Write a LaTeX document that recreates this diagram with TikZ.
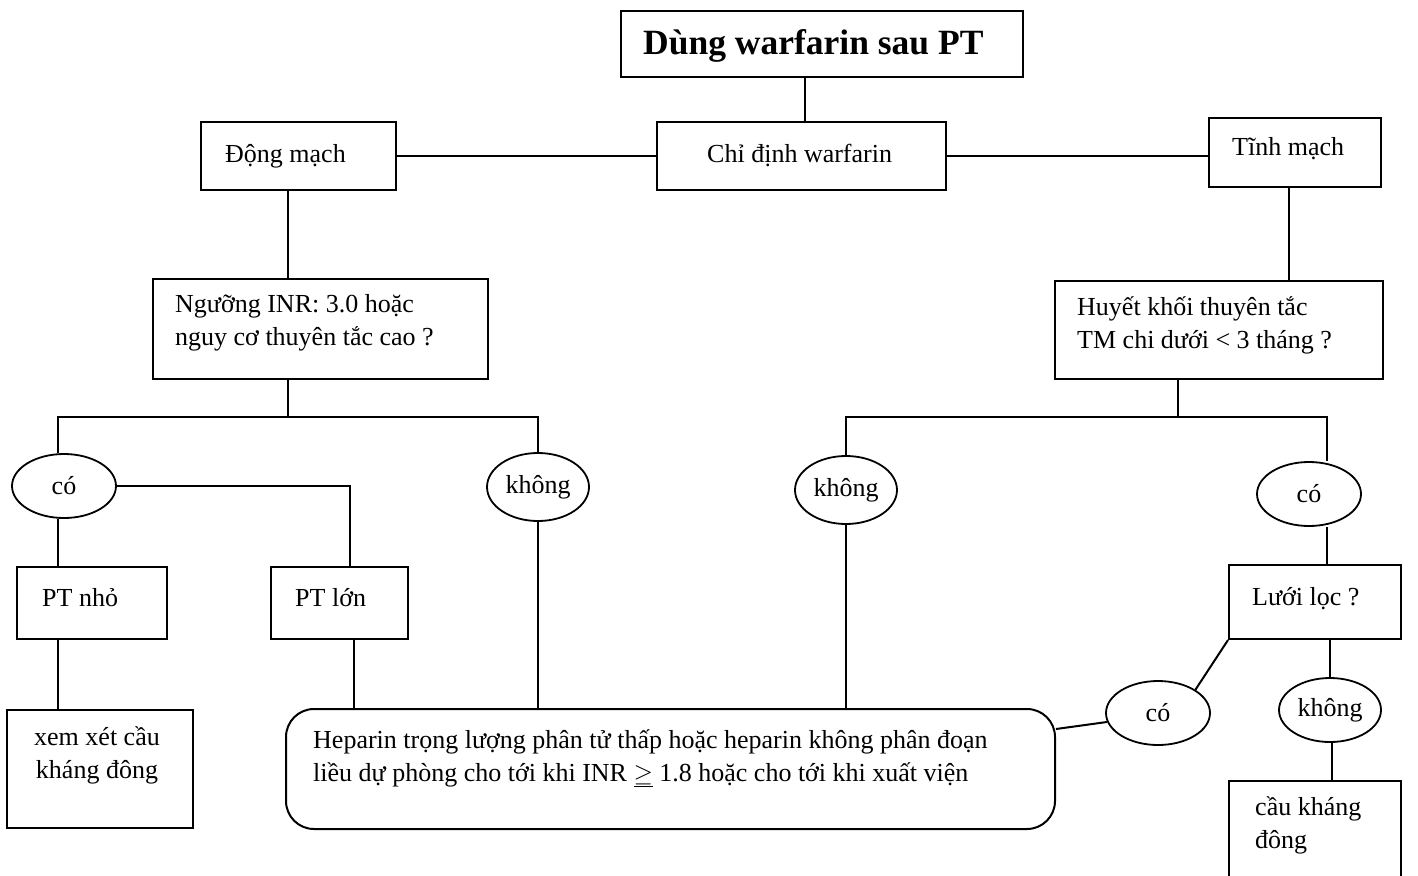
\documentclass[tikz,border=0pt]{standalone}
\usepackage{fontspec}
\setmainfont{Liberation Serif}
\usetikzlibrary{shapes.geometric}
\tikzset{
  box/.style={draw, line width=2pt, inner sep=0pt},
  rbox/.style={box, rounded corners=28pt},
  oval/.style={draw, ellipse, line width=1.8pt, inner sep=0pt,
    minimum width=104pt, minimum height=64pt, font=\fontsize{26}{30}\selectfont},
  lbl/.style={inner sep=0pt, anchor=base west, align=left,
    font=\fontsize{26}{33}\selectfont},
  link/.style={line width=2pt}
}
\begin{document}
\begin{tikzpicture}[x=1pt,y=-1pt]
\useasboundingbox (0,0) rectangle (1418,875);

% boxes (centre, size)
\node[box, minimum width=402pt, minimum height=66pt] (title) at (822,44) {};
\node[box, minimum width=289pt, minimum height=68pt] (chi) at (801.5,156) {};
\node[box, minimum width=195pt, minimum height=68pt] (dong) at (298.5,156) {};
\node[box, minimum width=172pt, minimum height=69pt] (tinh) at (1295,152.5) {};
\node[box, minimum width=335pt, minimum height=100pt] (nguong) at (320.5,329) {};
\node[box, minimum width=328pt, minimum height=98pt] (huyet) at (1219,330) {};
\node[box, minimum width=150pt, minimum height=72pt] (ptnho) at (92,603) {};
\node[box, minimum width=137pt, minimum height=72pt] (ptlon) at (339.5,603) {};
\node[box, minimum width=186pt, minimum height=118pt] (xem) at (100,769) {};
\node[rbox, minimum width=769pt, minimum height=120pt] (hep) at (670.5,769) {};
\node[box, minimum width=172pt, minimum height=74pt] (luoi) at (1315,602) {};
\node[box, minimum width=172pt, minimum height=110pt] (cau) at (1315,836) {};

% ovals
\node[oval] (co1) at (64,486) {có};
\node[oval, minimum width=102pt, minimum height=68pt] (kh1) at (538,487) {không};
\node[oval, minimum width=102pt, minimum height=68pt] (kh2) at (846,490) {không};
\node[oval] (co2) at (1309,494) {có};
\node[oval] (co3) at (1158,713) {có};
\node[oval, minimum width=102pt] (kh3) at (1330,710) {không};

% texts (base anchor = baseline of the last line)
\node[lbl, font=\fontsize{35.5}{40}\selectfont\bfseries] (title-t) at (643,55) {Dùng warfarin sau PT};
\node[lbl] (chi-t) at (707,162) {Chỉ định warfarin};
\node[lbl] (dong-t) at (225,162) {Động mạch};
\node[lbl] (tinh-t) at (1232,155) {Tĩnh mạch};
\node[lbl] (nguong-t) at (175,345) {Ngưỡng INR: 3.0 hoặc\\nguy cơ thuyên tắc cao ?};
\node[lbl] (huyet-t) at (1077,348) {Huyết khối thuyên tắc\\TM chi dưới < 3 tháng ?};
\node[lbl] (ptnho-t) at (42,606) {PT nhỏ};
\node[lbl] (ptlon-t) at (295,606) {PT lớn};
\node[lbl, align=center, anchor=base] (xem-t) at (97,778) {xem xét cầu\\kháng đông};
\node[lbl] (hep-t) at (313,781) {Heparin trọng lượng phân tử thấp hoặc heparin không phân đoạn\\liều dự phòng cho tới khi INR $\underline{\geq}$ 1.8 hoặc cho tới khi xuất viện};
\node[lbl] (luoi-t) at (1252,605) {Lưới lọc ?};
\node[lbl] (cau-t) at (1255,848) {cầu kháng\\đông};

% junction points
\coordinate (jL) at (288,417);
\coordinate (jR) at (1178,417);
\coordinate (xL) at (58,0);
\coordinate (xP) at (350,0);
\coordinate (xR) at (1327,0);

% top level
\draw[link] ([xshift=-17]title.south) -- ([xshift=-17]title.south |- chi.north);
\draw[link] (dong.east) -- (chi.west);
\draw[link] (chi.east) -- (chi.east -| tinh.west);

% arterial branch
\draw[link] (dong.south -| jL) -- (nguong.north -| jL);
\draw[link] (nguong.south -| jL) -- (jL);
\draw[link] (co1.north -| xL) |- (jL) -| (kh1.north);
\draw[link] (co1.east) -| (ptlon.north -| xP);
\draw[link] (co1.south -| xL) -- (ptnho.north -| xL);
\draw[link] (ptnho.south -| xL) -- (xem.north -| xL);
\draw[link] ([xshift=14]ptlon.south) -- ([xshift=14]ptlon.south |- hep.north);
\draw[link] (kh1.south) -- (kh1.south |- hep.north);

% venous branch
\draw[link] ([xshift=-6]tinh.south) -- ([xshift=-6]tinh.south |- huyet.north);
\draw[link] (huyet.south -| jR) -- (jR);
\draw[link] (kh2.north) |- (jR) -| (co2.north -| xR);
\draw[link] (kh2.south) -- (kh2.south |- hep.north);
\draw[link] (co2.south -| xR) -- (luoi.north -| xR);
\draw[link] (luoi.south west) -- (co3.north east);
\draw[link] (co3.190) -- ([yshift=40]hep.east);
\draw[link] (luoi.south -| kh3.north) -- (kh3.north);
\draw[link] ([xshift=2]kh3.south) -- ([xshift=2]kh3.south |- cau.north);
\end{tikzpicture}
\end{document}
